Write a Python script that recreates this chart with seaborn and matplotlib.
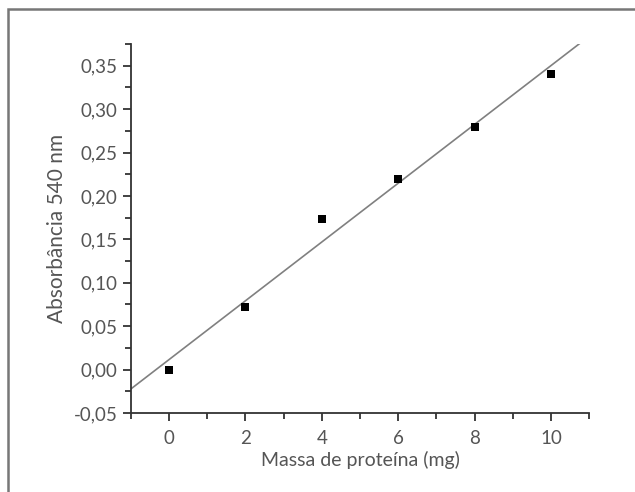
import numpy as np
import pandas as pd
import matplotlib
matplotlib.use("Agg")
import matplotlib.pyplot as plt
from matplotlib.ticker import MultipleLocator, FuncFormatter
from matplotlib.patches import Rectangle
import seaborn as sns

# data
massa = [0, 2, 4, 6, 8, 10]
absorbancia = [0.000, 0.072, 0.174, 0.219, 0.279, 0.341]
df = pd.DataFrame({"massa": massa, "abs": absorbancia})

sns.set_style("ticks")
plt.rcParams['font.family'] = ['Lato', 'DejaVu Sans']

fig = plt.figure(figsize=(6.35, 4.92), dpi=100)
ax = fig.add_axes([0.206, 0.1606, 0.722, 0.75])

# linear fit
coef = np.polyfit(df["massa"], df["abs"], 1)
xs = np.array([-1.0, 10.75])
ax.plot(xs, np.polyval(coef, xs), color='#808080', lw=1.2, zorder=1)

sns.scatterplot(data=df, x="massa", y="abs", marker='s', color='black',
                s=32, edgecolor='black', linewidth=0, ax=ax, zorder=2)

ax.set_xlim(-1, 11)
ax.set_ylim(-0.05, 0.375)
ax.xaxis.set_major_locator(MultipleLocator(2))
ax.xaxis.set_minor_locator(MultipleLocator(1))
ax.yaxis.set_major_locator(MultipleLocator(0.05))
ax.yaxis.set_minor_locator(MultipleLocator(0.025))
ax.yaxis.set_major_formatter(FuncFormatter(lambda v, p: f"{v:.2f}".replace('.', ',').replace('-0,00', '0,00')))

for s in ['top', 'right']:
    ax.spines[s].set_visible(False)
for s in ['left', 'bottom']:
    ax.spines[s].set_linewidth(1.3)
    ax.spines[s].set_color('#333333')
ax.tick_params(which='major', direction='out', length=6, width=1.3, color='#333333',
               labelsize=13.5, labelcolor='#555555')
ax.tick_params(axis='x', which='major', pad=6)
ax.tick_params(which='minor', direction='out', length=4, width=1.3, color='#333333')

ax.set_xlabel("Massa de proteína (mg)", fontsize=14, color='#555555', labelpad=3)
ax.set_ylabel("Absorbância 540 nm", fontsize=15, color='#555555', labelpad=5)

# outer frame (top and left edges visible)
fig.patches.append(Rectangle((8/635, -0.05), 1.2, 1 - 9/492 + 0.05, transform=fig.transFigure,
                             fill=False, edgecolor='#777777', lw=1.8))

fig.savefig("out.png", dpi=100)
